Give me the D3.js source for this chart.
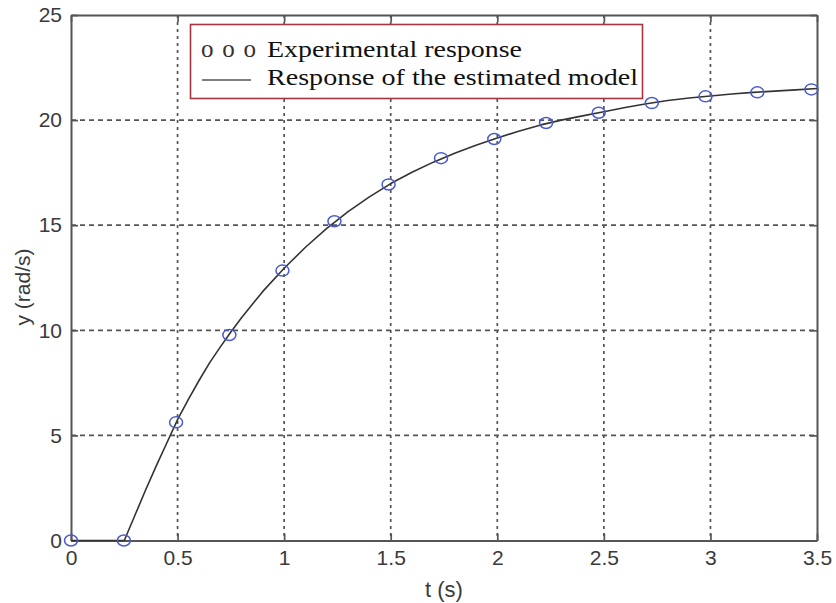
<!DOCTYPE html>
<html><head><meta charset="utf-8">
<script src="https://cdn.jsdelivr.net/npm/d3@7"></script>
<style>body{margin:0;background:#fff}svg{display:block}</style>
</head><body>
<svg id="c" width="836" height="603"></svg>
<script>
// ---- data ----
const expTime = [0, 0.248, 0.493, 0.743, 0.992, 1.236, 1.49, 1.736, 1.986, 2.229, 2.476, 2.725, 2.977, 3.22, 3.474];
const expY    = [0, 0, 5.62, 9.78, 12.84, 15.19, 16.94, 18.19, 19.10, 19.86, 20.35, 20.81, 21.13, 21.32, 21.46];
const modelTime = [0, 0.25, 0.3, 0.35, 0.4, 0.45, 0.5, 0.55, 0.6, 0.65, 0.7, 0.75, 0.8, 0.9, 1.0, 1.1, 1.2, 1.3, 1.4, 1.5, 1.6, 1.7, 1.8, 1.9, 2.0, 2.1, 2.2, 2.3, 2.4, 2.5, 2.6, 2.7, 2.8, 2.9, 3.0, 3.1, 3.2, 3.3, 3.4, 3.5];
const modelY    = [0, 0, 1.2, 2.4, 3.55, 4.65, 5.75, 6.7, 7.6, 8.45, 9.2, 9.92, 10.6, 11.85, 12.95, 13.95, 14.85, 15.65, 16.35, 16.98, 17.52, 18.0, 18.42, 18.8, 19.15, 19.47, 19.76, 20.0, 20.2, 20.4, 20.6, 20.78, 20.93, 21.05, 21.15, 21.24, 21.32, 21.38, 21.44, 21.5];
const xTicks = [0, 0.5, 1, 1.5, 2, 2.5, 3, 3.5];
const yTicks = [0, 5, 10, 15, 20, 25];
const legendLabels = ["Experimental response", "Response of the estimated model"];
const xLabel = "t (s)", yLabel = "y (rad/s)";

// ---- layout ----
const L = 71, R = 817, T = 15, B = 540.5;
const svg = d3.select("#c");
const x = d3.scaleLinear().domain([0, 3.5]).range([L, R]);
const y = d3.scaleLinear().domain([0, 25]).range([B, T]);
const axisCol = "#555";

// grid
const g = svg.append("g");
g.selectAll("line.vg").data(xTicks.slice(1, -1)).join("line")
  .attr("x1", d => x(d)).attr("x2", d => x(d)).attr("y1", T).attr("y2", B)
  .attr("stroke", "#555").attr("stroke-width", 1.7).attr("stroke-dasharray", "3,4");
g.selectAll("line.hg").data(yTicks.slice(1, -1)).join("line")
  .attr("y1", d => y(d)).attr("y2", d => y(d)).attr("x1", L).attr("x2", R)
  .attr("stroke", "#555").attr("stroke-width", 1.7).attr("stroke-dasharray", "5,4");

// axes (box with inward ticks)
const fontAx = "Liberation Sans, Arial, sans-serif";
const xAx = svg.append("g").attr("transform", `translate(0,${B})`)
  .call(d3.axisBottom(x).tickValues(xTicks).tickFormat(d3.format("")).tickSizeInner(-7).tickSizeOuter(0).tickPadding(9));
const xAxTop = svg.append("g").attr("transform", `translate(0,${T})`)
  .call(d3.axisTop(x).tickValues(xTicks).tickFormat("").tickSizeInner(-7).tickSizeOuter(0));
const yAx = svg.append("g").attr("transform", `translate(${L},0)`)
  .call(d3.axisLeft(y).tickValues(yTicks).tickSizeInner(-7).tickSizeOuter(0).tickPadding(9));
const yAxR = svg.append("g").attr("transform", `translate(${R},0)`)
  .call(d3.axisRight(y).tickValues(yTicks).tickFormat("").tickSizeInner(-7).tickSizeOuter(0));
[xAx, xAxTop, yAx, yAxR].forEach(a => {
  a.select(".domain").attr("stroke", axisCol).attr("stroke-width", 2);
  a.selectAll(".tick line").attr("stroke", axisCol).attr("stroke-width", 1.7);
  a.selectAll("text").attr("fill", "#3a3a3a").style("font-family", fontAx).style("font-size", "21px");
});
xAx.selectAll("text").attr("dy", "0.75em");

// axis labels
svg.append("text").attr("x", (L + R) / 2).attr("y", 597).attr("text-anchor", "middle")
  .attr("fill", "#3a3a3a").style("font-family", fontAx).style("font-size", "22px").text(xLabel);
svg.append("text").attr("transform", `translate(30,287) rotate(-90)`).attr("text-anchor", "middle")
  .attr("fill", "#3a3a3a").style("font-family", fontAx).style("font-size", "21px").text(yLabel);

// model line
svg.append("path").datum(modelTime.map((t, i) => [t, modelY[i]]))
  .attr("d", d3.line().x(d => x(d[0])).y(d => y(d[1])))
  .attr("fill", "none").attr("stroke", "#333").attr("stroke-width", 1.6).attr("stroke-linejoin", "round");

// experimental markers
svg.selectAll("ellipse.m").data(expTime.map((t, i) => [t, expY[i]])).join("ellipse")
  .attr("cx", d => x(d[0])).attr("cy", d => y(d[1])).attr("rx", 6.5).attr("ry", 5.5)
  .attr("fill", "none").attr("stroke", "#4a5ad0").attr("stroke-width", 1.5);

// legend
const lg = svg.append("g");
lg.append("rect").attr("x", 190.5).attr("y", 24.5).attr("width", 452).attr("height", 74)
  .attr("fill", "#fff").attr("stroke", "#a8343f").attr("stroke-width", 1.6);
const fontLg = "Liberation Serif, Times New Roman, serif";
lg.append("text").attr("x", 201).attr("y", 57).style("font-family", fontLg).style("font-size", "25px")
  .attr("fill", "#3a3030").attr("textLength", 55).attr("lengthAdjust", "spacing").text("o o o");
lg.append("line").attr("x1", 202).attr("x2", 251).attr("y1", 80).attr("y2", 80).attr("stroke", "#555").attr("stroke-width", 1.6);
const lgLens = [255, 371];
lg.selectAll("text.lt").data(legendLabels).join("text")
  .attr("x", 267).attr("y", (d, i) => 57 + i * 28)
  .attr("textLength", (d, i) => lgLens[i]).attr("lengthAdjust", "spacingAndGlyphs")
  .style("font-family", fontLg).style("font-size", "24px").attr("fill", "#111").text(d => d);
</script>
</body></html>
